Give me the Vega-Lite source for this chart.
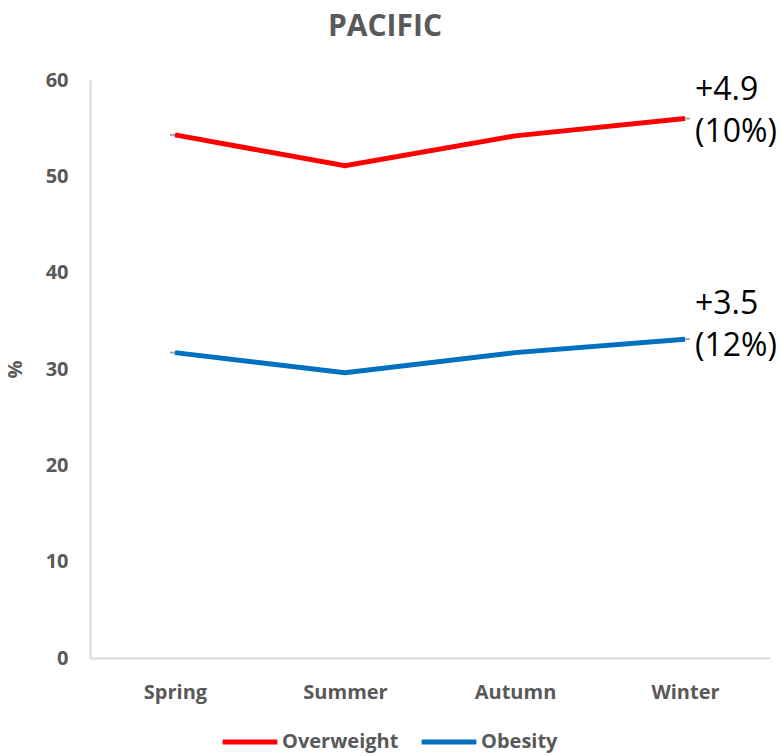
{
  "$schema": "https://vega.github.io/schema/vega-lite/v6.json",
  "autosize": "none",
  "padding": {"left": 90, "top": 80, "right": 12, "bottom": 98},
  "width": 680,
  "height": 578,
  "background": "white",
  "config": {
    "view": {"stroke": null},
    "font": "Open Sans",
    "axis": {"grid": false, "ticks": false, "domainColor": "#d9d9d9", "domainWidth": 2, "labelColor": "#595959", "labelFontWeight": "bold", "labelFontSize": 20, "titleColor": "#595959", "titleFontWeight": "bold", "titleFontSize": 20, "labelFont": "Open Sans", "titleFont": "Open Sans"}
  },
  "title": {"text": "PACIFIC", "fontSize": 30, "fontWeight": "bold", "color": "#595959", "font": "Open Sans", "offset": 28, "dx": -45},
  "datasets": {
    "series": [
      {"season": "Spring", "group": "Overweight", "value": 54.3},
      {"season": "Summer", "group": "Overweight", "value": 51.1},
      {"season": "Autumn", "group": "Overweight", "value": 54.2},
      {"season": "Winter", "group": "Overweight", "value": 56.0},
      {"season": "Spring", "group": "Obesity", "value": 31.7},
      {"season": "Summer", "group": "Obesity", "value": 29.6},
      {"season": "Autumn", "group": "Obesity", "value": 31.7},
      {"season": "Winter", "group": "Obesity", "value": 33.1}
    ],
    "notes": [
      {"season": "Winter", "label": "+4.9\n(10%)", "pos": 59.0},
      {"season": "Winter", "label": "+3.5\n(12%)", "pos": 36.7}
    ]
  },
  "encoding": {
    "x": {"field": "season", "type": "ordinal", "sort": ["Spring", "Summer", "Autumn", "Winter"], "scale": {"type": "point", "padding": 0.5}, "axis": {"title": null, "labelAngle": 0, "labelPadding": 24, "labelAlign": "center"}}
  },
  "layer": [
    {
      "data": {"name": "series"},
      "mark": {"type": "tick", "orient": "horizontal", "color": "#7f7f7f", "size": 10, "thickness": 2},
      "encoding": {
        "y": {"field": "value", "type": "quantitative"}
      }
    },
    {
      "data": {"name": "series"},
      "mark": {"type": "line", "strokeWidth": 5},
      "encoding": {
        "y": {"field": "value", "type": "quantitative", "scale": {"domain": [0, 60]}, "axis": {"title": "%", "values": [0, 10, 20, 30, 40, 50, 60], "labelPadding": 22, "titlePadding": 20}},
        "color": {"field": "group", "type": "nominal", "scale": {"domain": ["Overweight", "Obesity"], "range": ["#ff0000", "#0070c0"]},
          "legend": {"title": null, "orient": "none", "legendX": 130, "legendY": 632, "direction": "horizontal", "symbolType": "stroke", "symbolSize": 3000, "symbolStrokeWidth": 5, "labelFontSize": 20, "labelFontWeight": "bold", "labelColor": "#595959", "labelFont": "Open Sans", "columnPadding": 12, "labelOffset": 2}}
      }
    },
    {
      "data": {"name": "notes"},
      "mark": {"type": "text", "align": "left", "baseline": "middle", "fontSize": 32, "lineBreak": "\n", "lineHeight": 42, "dx": 10, "color": "#000000", "font": "Open Sans"},
      "encoding": {
        "y": {"field": "pos", "type": "quantitative"},
        "text": {"field": "label"}
      }
    }
  ]
}
